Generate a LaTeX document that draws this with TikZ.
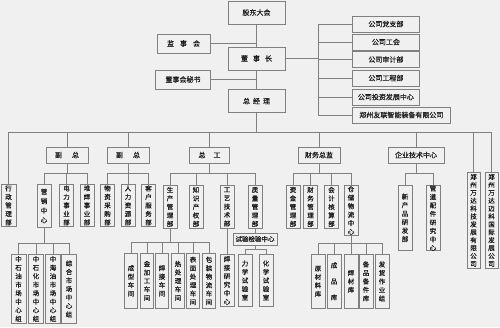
\documentclass[tikz,border=0pt]{standalone}
\usepackage{fontspec}
\newfontfamily\cjk{Noto Sans CJK SC}[FakeBold=0.8]
\XeTeXlinebreaklocale "zh"
\XeTeXlinebreakskip=0pt plus 1pt
\usepackage{xcolor}
\usepackage{tikz}
\usetikzlibrary{positioning}
\definecolor{paper}{RGB}{240,240,240}
\definecolor{rule}{RGB}{128,128,128}
\definecolor{ink}{RGB}{30,30,30}

\begin{document}
\begin{tikzpicture}[x=1pt,y=-1pt,
  line/.style={rule,line width=0.8pt},
  hbox/.style={draw=rule,line width=0.8pt,fill=paper,inner sep=0pt,text=ink,
    font=\cjk\fontsize{7}{9}\selectfont},
  topbox/.style={hbox,minimum width=57pt,minimum height=23pt},
  sidebox/.style={hbox,minimum height=16pt,anchor=west},
  vbox/.style={draw=rule,line width=0.8pt,fill=paper,inner sep=0pt,text=ink,
    minimum width=14pt,text width=7pt,align=center,anchor=north,
    font=\cjk\fontsize{6.5}{8.5}\selectfont}
]
\useasboundingbox (0,0) rectangle (500,327);
\fill[paper] (0,0) rectangle (500,327);

%--- top: board ---
\node[topbox] (gddh) at (256.5,12.5) {股东大会};
\node[topbox] (dsz) at (256.5,58.5) {董\hspace{5pt}事\hspace{5pt}长};
\node[topbox] (zjl) at (256.5,101) {总\hspace{3pt}经\hspace{3pt}理};
\node[hbox,minimum width=53pt,minimum height=19pt] (jsh) at (183.5,43.5) {监\hspace{6pt}事\hspace{6pt}会};
\node[hbox,minimum width=55pt,minimum height=19pt] (msh) at (183,79.5) {董事会秘书};
\draw[line] (gddh) -- (dsz);
\draw[line] (dsz) -- (zjl);
\draw[line] (jsh.east) -- (jsh.east -| dsz.center);
\draw[line] (msh.east) -- (msh.east -| zjl.center);

%--- right column ---
\coordinate (rb) at (318,58.5);
\draw[line] (dsz) -- (rb);
\foreach \y/\n/\t in {24/dzb/公司党支部,42/gh/公司工会,59.5/sjb/公司审计部,
    78/gcb/公司工程部,97/tzzx/公司投资发展中心} {
  \node[sidebox,minimum width=67pt] (\n) at (352,\y) {\t};
  \draw[line] (rb) |- (\n);
}
\node[sidebox,minimum width=98pt] (ylgs) at (352,115) {郑州友联智能装备有限公司};
\draw[line] (rb) |- (ylgs);

%--- second level ---
\coordinate (mb) at (256.5,132);
\draw[line] (zjl) -- (mb);
\node[vbox,minimum width=15pt,minimum height=42pt] (xzgl) at (8.5,184) {行政管理部};
\node[hbox,minimum width=42pt,minimum height=16pt] (fz1) at (67,155) {副\hspace{10pt}总};
\node[hbox,minimum width=42pt,minimum height=16pt] (fz2) at (128,155) {副\hspace{10pt}总};
\node[hbox,minimum width=40pt,minimum height=16pt] (zg) at (209.5,155) {总\hspace{8pt}工};
\node[hbox,minimum width=42pt,minimum height=16pt] (cwzj) at (319,155) {财务总监};
\node[hbox,minimum width=56pt,minimum height=16pt] (qyjs) at (416,155) {企业技术中心};
\node[vbox,minimum width=13pt,minimum height=96pt,font=\cjk\fontsize{6.5}{7.9}\selectfont] (wd1) at (473.5,172) {郑州万达科技发展有限公司};
\node[vbox,minimum width=13pt,minimum height=96pt,font=\cjk\fontsize{6.5}{7.9}\selectfont] (wd2) at (491.5,172) {郑州万达迈科国际发展公司};
\foreach \n in {xzgl,fz1,fz2,zg,cwzj,qyjs,wd1,wd2}
  \draw[line] (mb) -| (\n.north);

%--- departments ---
\coordinate (fz1b) at (67,173);
\draw[line] (fz1) -- (fz1b);
\node[vbox,minimum height=43pt,font=\cjk\fontsize{6.5}{9.5}\selectfont] (yxzx) at (44,184) {营销中心};
\draw[line] (fz1b) -| (yxzx.north);
\foreach \x/\n/\t in {66.5/dlsy/电力事业部,87/dhsy/堆焊事业部} {
  \node[vbox,minimum height=42pt] (\n) at (\x,184) {\t};
  \draw[line] (fz1b) -| (\n.north);
}
\coordinate (fz2b) at (128,173);
\draw[line] (fz2) -- (fz2b);
\foreach \x/\n/\t in {107.5/wzcg/物资采购部,128/rlzy/人力资源部,148.5/khfw/客户服务部} {
  \node[vbox,minimum height=42pt] (\n) at (\x,184) {\t};
  \draw[line] (fz2b) -| (\n.north);
}
\coordinate (zgb) at (209.5,173);
\draw[line] (zg) -- (zgb);
\foreach \x/\n/\t in {170/scgl/生产管理部,196/zscq/知识产权部,227/gyjs/工艺技术部,255/zlgl/质量管理部} {
  \node[vbox,minimum height=43pt] (\n) at (\x,185) {\t};
  \draw[line] (zgb) -| (\n.north);
}
\coordinate (cwb) at (319,173);
\draw[line] (cwzj) -- (cwb);
\foreach \x/\n/\t/\h in {293/zjgl/资金管理部/43,310.5/cwgl/财务管理部/43,331.5/kjhs/会计核算部/43,351/ccwl/仓储物流中心/50} {
  \node[vbox,minimum height=\h pt] (\n) at (\x,185) {\t};
  \draw[line] (cwb) -| (\n.north);
}
\coordinate (qyb) at (416,173);
\draw[line] (qyjs) -- (qyb);
\foreach \x/\n/\t in {405/xcp/新产品研发部,433/gdpj/管道配件研究中心} {
  \node[vbox,minimum height=65pt] (\n) at (\x,185) {\t};
  \draw[line] (qyb) -| (\n.north);
}

%--- third level ---
\coordinate (yxb) at (44,243);
\draw[line] (yxzx) -- (yxb);
\foreach \x/\n/\t in {18.5/zsy/中石油市场中心组,36/zsh/中石化市场中心组,53/zhy/中海油市场中心组,69/zhsc/综合市场中心组} {
  \node[vbox,minimum width=15pt,minimum height=69pt] (\n) at (\x,254) {\t};
  \draw[line] (yxb) -| (\n.north);
}
\coordinate (scb) at (170,242);
\draw[line] (scgl) -- (scb);
\foreach \x/\n/\t in {131/cxcj/成型车间,147/jjg/金加工车间,162/hjcj/焊接车间,178/rcl/热处理车间,193/bmcl/表面处理车间,209/bzwl/包装物流车间} {
  \node[vbox,minimum width=13.5pt,minimum height=55pt] (\n) at (\x,253) {\t};
  \draw[line] (scb) -| (\n.north);
}
\node[vbox,minimum height=52pt] (hjyj) at (227,254) {焊接研究中心};
\draw[line] (gyjs) -- (hjyj);
\node[hbox,minimum width=44pt,minimum height=12pt,font=\cjk\fontsize{6.5}{8}\selectfont] (syjy) at (255,239) {试验检验中心};
\draw[line] (zlgl) -- (syjy);
\coordinate (syb) at (255,249);
\draw[line] (syjy) -- (syb);
\foreach \x/\n/\t in {245/lxsy/力学试验室,266/hxsy/化学试验室} {
  \node[vbox,minimum height=52pt] (\n) at (\x,254) {\t};
  \draw[line] (syb) -| (\n.north);
}
\coordinate (ccb) at (351,243);
\draw[line] (ccwl) -- (ccb);
\foreach \x/\n/\t in {318/ycl/原材料库,351/hck/焊材库,366/bpbj/备品备件库,382/fhzy/发货作业组} {
  \node[vbox,minimum height=54pt] (\n) at (\x,254) {\t};
  \draw[line] (ccb) -| (\n.north);
}
\node[vbox,minimum height=54pt,font=\cjk\fontsize{6.5}{16}\selectfont] (cpk) at (334,254) {成品库};
\draw[line] (ccb) -| (cpk.north);
\end{tikzpicture}
\end{document}
